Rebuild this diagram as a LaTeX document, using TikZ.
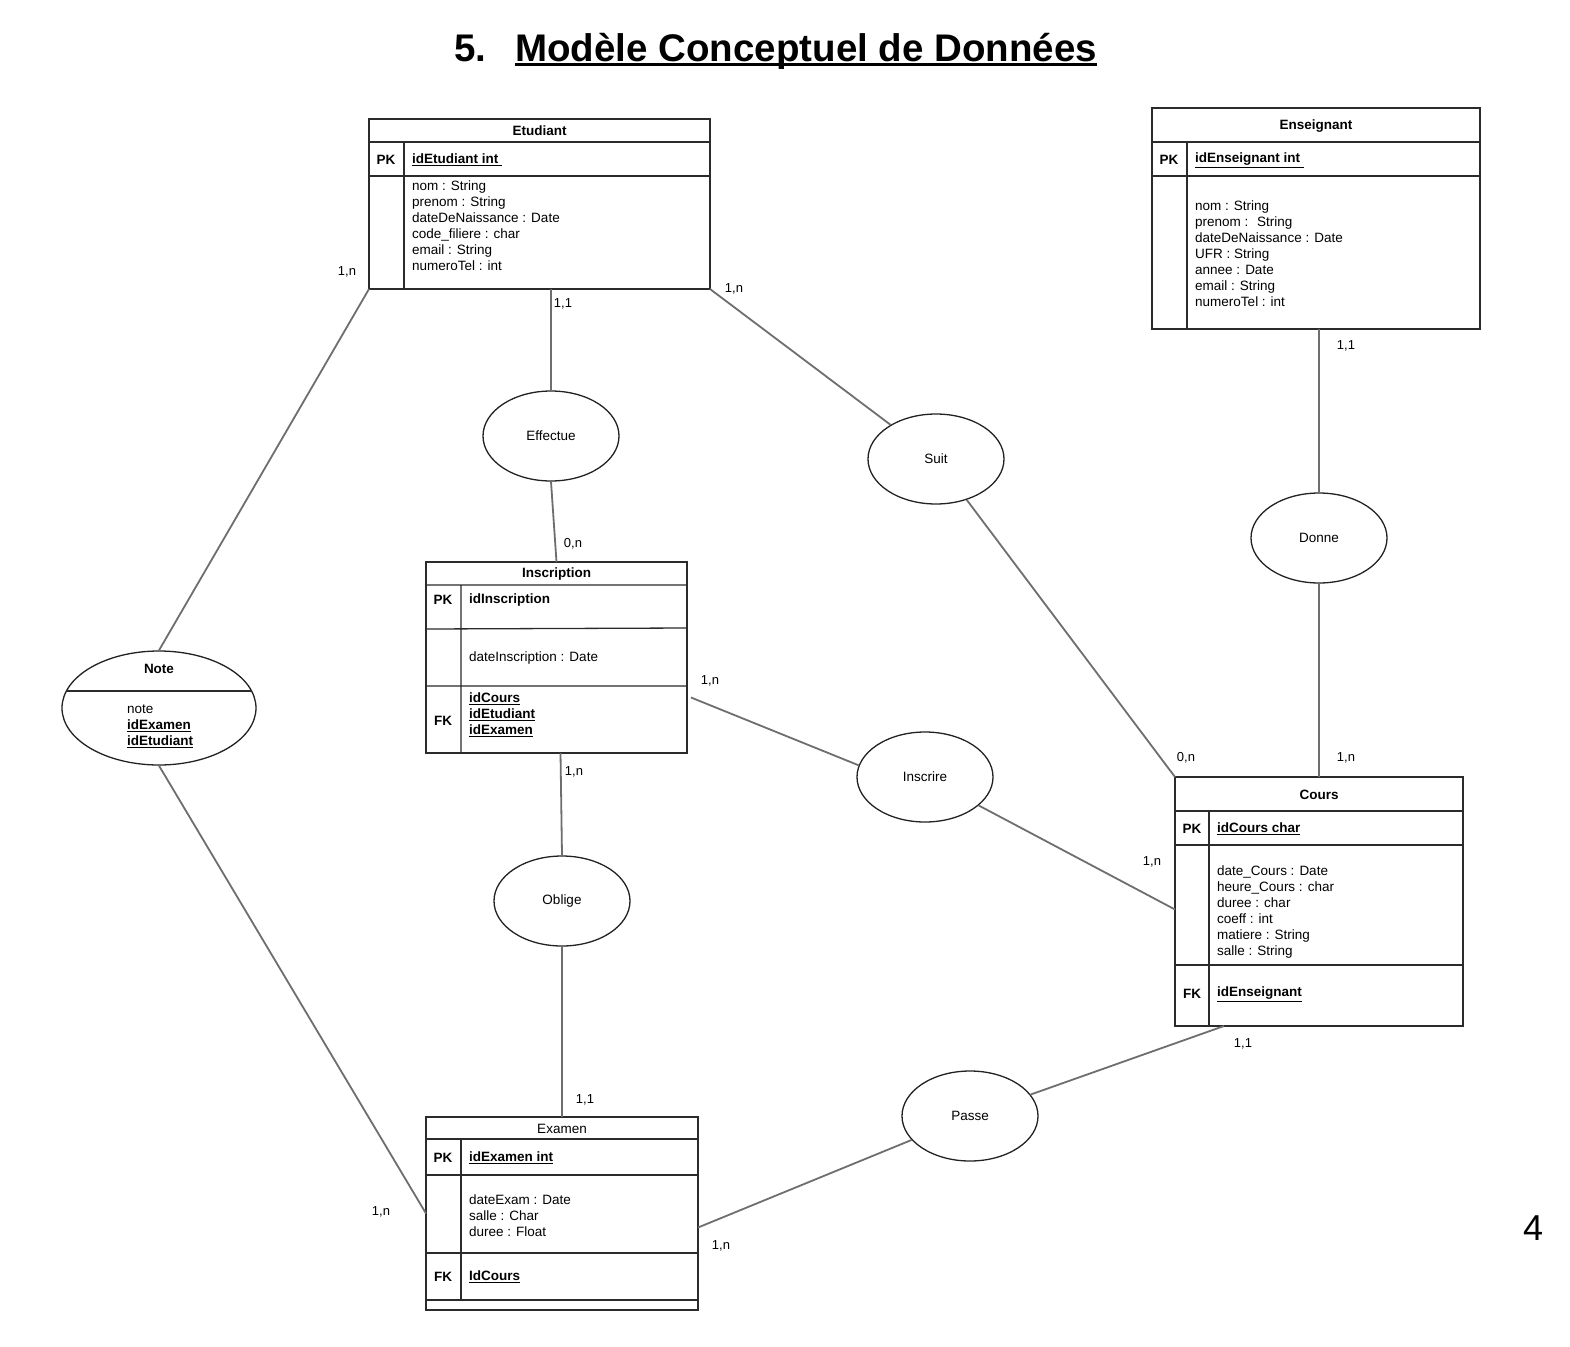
\documentclass[tikz,border=0pt]{standalone}
\usepackage{fontspec}
\setmainfont{Liberation Sans}
\usetikzlibrary{shapes.geometric,calc}
\definecolor{tcol}{HTML}{2B2B2B}
\definecolor{ecol}{HTML}{222222}
\definecolor{ccol}{HTML}{6E6E6E}
\tikzset{
  tbl/.style={draw=tcol, line width=1.3pt, inner sep=0pt, outer sep=0pt, anchor=north west},
  tline/.style={draw=tcol, line width=1.3pt},
  ttl/.style={font=\fontsize{13.5}{16}\selectfont\bfseries, inner sep=0pt},
  keytxt/.style={font=\fontsize{13.5}{16}\selectfont\bfseries, inner sep=0pt},
  plain/.style={font=\fontsize{13.5}{16}\selectfont, inner sep=0pt},
  attr/.style={font=\fontsize{13.5}{16}\selectfont, align=left, inner sep=0pt, anchor=north west},
  rel/.style={ellipse, draw=ecol, line width=1.3pt, minimum width=136pt, minimum height=90pt, inner sep=0pt, font=\fontsize{13.5}{16}\selectfont},
  conn/.style={draw=ccol, line width=1.8pt},
  card/.style={font=\fontsize{13}{16}\selectfont, inner sep=0pt},
  bigttl/.style={font=\fontsize{38.5}{42}\selectfont\bfseries, inner sep=0pt, anchor=base west}
}
\begin{document}
\begin{tikzpicture}[x=1pt, y=-1pt]
\fill[white] (0,0) rectangle (1570,1346);
\path[use as bounding box] (0,0) rectangle (1570,1346);

% Title
\node[bigttl] (tnum) at (454,61) {5.};
\node[bigttl] (ttext) at (515,61) {Modèle Conceptuel de Données};
\draw[line width=2.4pt] ([yshift=-3.5pt]ttext.base west) -- ([yshift=-3.5pt]ttext.base east);

% Etudiant
\node[tbl, minimum width=341pt, minimum height=170pt] (etu) at (369,119) {};
\draw[tline] (369,142) -- (710,142) (369,176) -- (710,176) (404,142) -- (404,289);
\node[ttl] (etuT) at (539.5,131) {Etudiant};
\node[keytxt] (etuPK) at (386,160) {PK};
\node[keytxt, anchor=west] (etuId) at (412,160) {\underline{idEtudiant int\ }};
\node[attr] (etuA) at (412,181) {nom : String\\prenom : String\\dateDeNaissance : Date\\code\_filiere : char\\email : String\\numeroTel : int};

% Enseignant
\node[tbl, minimum width=328pt, minimum height=221pt] (ens) at (1152,108) {};
\draw[tline] (1152,142) -- (1480,142) (1152,176) -- (1480,176) (1187,142) -- (1187,329);
\node[ttl] (ensT) at (1316,126) {Enseignant};
\node[keytxt] (ensPK) at (1169,160) {PK};
\node[keytxt, anchor=west] (ensId) at (1195,160) {\underline{idEnseignant int\ }};
\node[attr] (ensA) at (1195,201) {nom : String\\prenom : \ String\\dateDeNaissance : Date\\UFR : String\\annee : Date\\email : String\\numeroTel : int};

% Inscription
\node[tbl, minimum width=261pt, minimum height=191pt] (ins) at (426,562) {};
\draw[tline] (426,585) -- (687,585) (426,629) -- (687,628) (426,686) -- (687,686) (461,585) -- (461,753);
\node[ttl] (insT) at (556.5,574) {Inscription};
\node[keytxt] (insPK) at (443,600) {PK};
\node[keytxt, anchor=west] (insId) at (469,600) {idInscription};
\node[plain, anchor=west] (insA) at (469,658) {dateInscription : Date};
\node[keytxt] (insFK) at (443,721) {FK};
\node[attr, font=\fontsize{13.5}{16}\selectfont\bfseries] (insF) at (469,693) {\underline{idCours}\\\underline{idEtudiant}\\\underline{idExamen}};

% Cours
\node[tbl, minimum width=288pt, minimum height=249pt] (cours) at (1175,777) {};
\draw[tline] (1175,811) -- (1463,811) (1175,845) -- (1463,845) (1175,965) -- (1463,965) (1209,811) -- (1209,1026);
\node[ttl] (coursT) at (1319,795) {Cours};
\node[keytxt] (coursPK) at (1192,829) {PK};
\node[keytxt, anchor=west] (coursId) at (1217,829) {\underline{idCours char}};
\node[attr] (coursA) at (1217,866) {date\_Cours : Date\\heure\_Cours : char\\duree : char\\coeff : int\\matiere : String\\salle : String};
\node[keytxt] (coursFK) at (1192,994) {FK};
\node[keytxt, anchor=west] (coursF) at (1217,994) {\underline{idEnseignant}};

% Examen
\node[tbl, minimum width=272pt, minimum height=193pt] (exa) at (426,1117) {};
\draw[tline] (426,1139) -- (698,1139) (426,1175) -- (698,1175) (426,1253) -- (698,1253) (426,1300) -- (698,1300) (461,1139) -- (461,1300);
\node[plain] (exaT) at (562,1129) {Examen};
\node[keytxt] (exaPK) at (443,1158) {PK};
\node[keytxt, anchor=west] (exaId) at (469,1158) {\underline{idExamen int}};
\node[attr] (exaA) at (469,1194) {dateExam : Date\\salle : Char\\duree : Float};
\node[keytxt] (exaFK) at (443,1277) {FK};
\node[keytxt, anchor=west] (exaF) at (469,1277) {\underline{IdCours}};

% Note
\node[ellipse, draw=ecol, line width=1.3pt, minimum width=194pt, minimum height=114pt, inner sep=0pt] (note) at (159,708) {};
\draw[tline] (66,691) -- (252,691);
\node[ttl] (noteT) at (159,669) {Note};
\node[attr] (noteA) at (127,705) {note\\\textbf{\underline{idExamen}}\\\textbf{\underline{idEtudiant}}};

% Relations
\node[rel] (eff) at (551,436) {Effectue};
\node[rel] (suit) at (936,459) {Suit};
\node[rel] (don) at (1319,538) {Donne};
\node[rel] (insc) at (925,777) {Inscrire};
\node[rel] (obl) at (562,901) {Oblige};
\node[rel] (pas) at (970,1116) {Passe};

% Connectors
\draw[conn] (etu.south west) -- (note.north);
\draw[conn] (note.south) -- (exa.west);
\draw[conn] (eff.north |- etu.south) -- (eff.north);
\draw[conn] (eff.south) -- (ins.north);
\draw[conn] (etu.south east) -- (suit);
\draw[conn] (suit) -- (cours.north west);
\draw[conn] (don.north |- ens.south) -- (don.north);
\draw[conn] (don.south) -- (cours.north);
\draw[conn] ($(ins.east)+(4,40)$) -- (insc.170);
\draw[conn] (insc) -- ($(cours.west)+(0,8)$);
\draw[conn] ($(ins.south)+(4,0)$) -- (obl.north);
\draw[conn] (obl.south) -- (exa.north);
\draw[conn] ($(cours.south west)+(49,0)$) -- (pas);
\draw[conn] (pas) -- ($(exa.east)+(0,14)$);

% Cardinalities
\node[card] (c1) at (347,272) {1,n};
\node[card] (c2) at (563,304) {1,1};
\node[card] (c3) at (734,289) {1,n};
\node[card] (c4) at (573,544) {0,n};
\node[card] (c5) at (1346,346) {1,1};
\node[card] (c6) at (710,681) {1,n};
\node[card] (c7) at (574,772) {1,n};
\node[card] (c8) at (1186,758) {0,n};
\node[card] (c9) at (1346,758) {1,n};
\node[card] (c10) at (1152,862) {1,n};
\node[card] (c11) at (1243,1044) {1,1};
\node[card] (c12) at (585,1100) {1,1};
\node[card] (c13) at (381,1212) {1,n};
\node[card] (c14) at (721,1246) {1,n};

% Page number
\node[font=\fontsize{36}{40}\selectfont, inner sep=0pt] (pnum) at (1533,1228) {4};
\end{tikzpicture}
\end{document}
